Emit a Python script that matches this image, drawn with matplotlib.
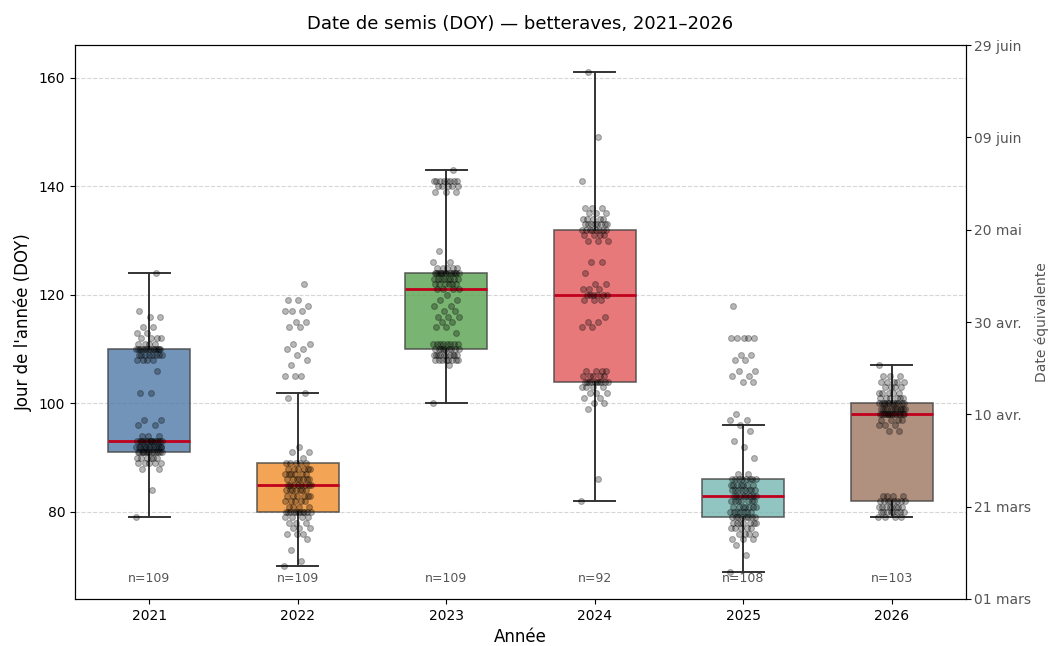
import numpy as np
import matplotlib
matplotlib.use("Agg")
import matplotlib.pyplot as plt
import matplotlib.transforms as mtransforms

# sowing day-of-year values per year as (value, count) pairs
years = ["2021", "2022", "2023", "2024", "2025", "2026"]

doy_2021 = [(79, 1), (84, 1), (88, 2), (89, 5), (90, 6), (91, 14), (92, 14), (93, 14),
            (94, 3), (96, 2), (97, 2), (102, 2), (106, 1), (108, 4), (109, 8), (110, 14),
            (111, 4), (112, 4), (113, 2), (114, 2), (116, 2), (117, 1), (124, 1)]
doy_2022 = [(70, 1), (71, 1), (73, 1), (75, 1), (76, 3), (77, 3), (78, 3), (79, 4), (80, 11),
            (81, 4), (82, 5), (83, 6), (84, 7), (85, 8), (86, 7), (87, 6), (88, 6), (89, 5),
            (90, 1), (91, 2), (92, 1), (101, 1), (102, 1), (105, 3), (107, 1), (108, 1),
            (109, 1), (110, 2), (111, 2), (114, 2), (115, 2), (117, 3), (118, 1), (119, 2), (122, 1)]
doy_2023 = [(100, 1), (107, 1), (108, 8), (109, 10), (110, 9), (111, 8), (113, 1), (114, 2),
            (115, 2), (116, 3), (117, 2), (118, 2), (119, 2), (120, 1), (121, 4), (122, 6),
            (123, 8), (124, 14), (125, 5), (126, 2), (128, 1), (139, 3), (140, 5), (141, 8), (143, 1)]
doy_2024 = [(82, 1), (86, 1), (99, 1), (100, 2), (101, 2), (102, 3), (103, 4), (104, 10),
            (105, 5), (106, 4), (114, 2), (115, 2), (116, 1), (119, 3), (120, 6), (121, 3),
            (122, 2), (124, 1), (126, 2), (130, 3), (131, 4), (132, 8), (133, 8), (134, 5),
            (135, 3), (136, 3), (141, 1), (149, 1), (161, 1)]
doy_2025 = [(69, 1), (72, 1), (74, 1), (75, 3), (76, 4), (77, 5), (78, 7), (79, 8), (80, 7),
            (81, 7), (82, 7), (83, 8), (84, 8), (85, 7), (86, 8), (87, 2), (90, 1), (92, 1),
            (93, 1), (95, 1), (96, 1), (97, 2), (98, 1), (104, 2), (105, 2), (106, 2), (108, 2),
            (109, 2), (112, 5), (118, 1)]
doy_2026 = [(79, 4), (80, 8), (81, 8), (82, 8), (83, 4), (95, 2), (96, 3), (97, 4), (98, 14),
            (99, 12), (100, 12), (101, 6), (102, 5), (103, 4), (104, 5), (105, 3), (107, 1)]

box_colors = ["#4e79a7", "#f28e2b", "#59a14f", "#e15759", "#76b7b2", "#9c755f"]

date_ticks = [60, 80, 100, 120, 140, 160, 180]
date_labels = ["01 mars", "21 mars", "10 avr.", "30 avr.", "20 mai", "09 juin", "29 juin"]


def expand(pairs):
    return np.repeat([p[0] for p in pairs], [p[1] for p in pairs]).astype(float)


data = [expand(d) for d in [doy_2021, doy_2022, doy_2023, doy_2024, doy_2025, doy_2026]]
pos = np.arange(1, len(years) + 1)

fig = plt.figure(figsize=(10.52, 6.46), dpi=100)
ax = fig.add_axes([0.0713, 0.073, 0.847, 0.857])

bp = ax.boxplot(data, positions=pos, widths=0.55, patch_artist=True, showfliers=False,
                whis=1.5,
                medianprops=dict(color="#c0001c", linewidth=2),
                whiskerprops=dict(color="#333333", linewidth=1.4),
                capprops=dict(color="#333333", linewidth=1.4),
                boxprops=dict(edgecolor="#444444", linewidth=1.2))
for patch, c in zip(bp["boxes"], box_colors):
    patch.set_facecolor(c)
    patch.set_alpha(0.8)

# jittered points (deterministic spread, golden-ratio sequence)
for p, d in zip(pos, data):
    k = np.arange(len(d))
    jit = ((k * 0.618034) % 1.0 - 0.5) * 0.18
    ax.scatter(p + jit, d, s=18, color="black", alpha=0.28, linewidths=0.8, zorder=3)

trans = mtransforms.blended_transform_factory(ax.transData, ax.transAxes)
for p, d in zip(pos, data):
    ax.text(p, 0.025, f"n={len(d)}", transform=trans, ha="center", va="bottom",
            fontsize=9, color="#555555")

ax.set_xlim(0.5, 6.5)
ax.set_ylim(64, 166)
ax.set_xticks(pos)
ax.set_xticklabels(years, fontsize=10)
ax.set_yticks([80, 100, 120, 140, 160])
ax.tick_params(axis="y", labelsize=10)
ax.yaxis.grid(True, linestyle="--", color="#cccccc", alpha=0.8)
ax.set_axisbelow(True)
ax.set_xlabel("Année", fontsize=12)
ax.set_ylabel("Jour de l'année (DOY)", fontsize=12)
ax.set_title("Date de semis (DOY) — betteraves, 2021–2026", fontsize=13, pad=12)

ax2 = ax.twinx()
ax2.set_ylim(60, 180)
ax2.set_yticks(date_ticks)
ax2.set_yticklabels(date_labels, fontsize=10, color="#555555")
ax2.tick_params(axis="y", pad=2)
ax2.set_ylabel("Date équivalente", fontsize=10, color="#555555", labelpad=3)

fig.savefig("out.png", dpi=100)
